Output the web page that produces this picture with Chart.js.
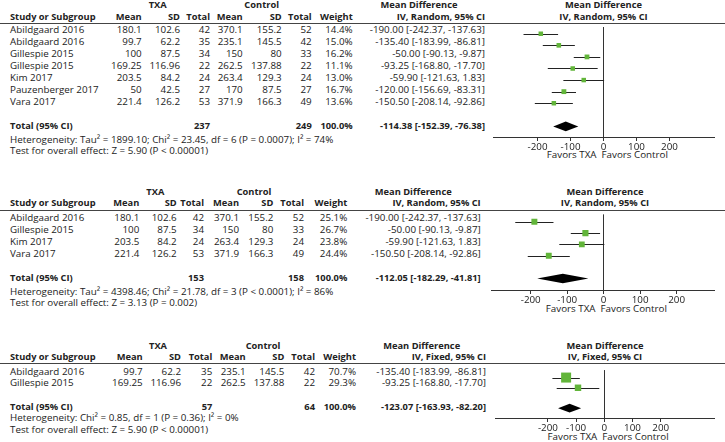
<!DOCTYPE html>
<html>
<head>
<meta charset="utf-8">
<script src="https://cdn.jsdelivr.net/npm/chart.js@4.4.1/dist/chart.umd.min.js"></script>
<style>
body { margin: 0; background: #fff; width: 725px; height: 442px; overflow: hidden; position: relative;
       font-family: "Open Sans", sans-serif; color: #222; }
.t { position: absolute; white-space: nowrap; line-height: 12px; font-size: 9.8px; }
.b { font-weight: bold; font-size: 9.3px; }
.hl { position: absolute; left: 0; width: 725px; height: 1px; background: #444; }
canvas { position: absolute; }
</style>
</head>
<body>
<script>
// ---- data: panel 1 (IV, Random, all studies)
const studies1 = ['Abildgaard 2016', 'Abildgaard 2016', 'Gillespie 2015', 'Gillespie 2015', 'Kim 2017', 'Pauzenberger 2017', 'Vara 2017'];
const txaMean1 = [180.1, 99.7, 100, 169.25, 203.5, 50, 221.4];
const txaSD1 = [102.6, 62.2, 87.5, 116.96, 84.2, 42.5, 126.2];
const txaN1 = [42, 35, 34, 22, 24, 27, 53];
const ctlMean1 = [370.1, 235.1, 150, 262.5, 263.4, 170, 371.9];
const ctlSD1 = [155.2, 145.5, 80, 137.88, 129.3, 87.5, 166.3];
const ctlN1 = [52, 42, 33, 22, 24, 27, 49];
const weight1 = [14.4, 15.0, 16.2, 11.1, 13.0, 16.7, 13.6];
const md1 = [-190.00, -135.40, -50.00, -93.25, -59.90, -120.00, -150.50];
const lo1 = [-242.37, -183.99, -90.13, -168.80, -121.63, -156.69, -208.14];
const hi1 = [-137.63, -86.81, -9.87, -17.70, 1.83, -83.31, -92.86];
const totalN1 = [237, 249];
const totalMD1 = [-114.38, -152.39, -76.38];
const het1 = 'Heterogeneity: Tau² = 1899.10; Chi² = 23.45, df = 6 (P = 0.0007); I² = 74%';
const test1 = 'Test for overall effect: Z = 5.90 (P < 0.00001)';

// ---- data: panel 2 (IV, Random, subset)
const studies2 = ['Abildgaard 2016', 'Gillespie 2015', 'Kim 2017', 'Vara 2017'];
const txaMean2 = [180.1, 100, 203.5, 221.4];
const txaSD2 = [102.6, 87.5, 84.2, 126.2];
const txaN2 = [42, 34, 24, 53];
const ctlMean2 = [370.1, 150, 263.4, 371.9];
const ctlSD2 = [155.2, 80, 129.3, 166.3];
const ctlN2 = [52, 33, 24, 49];
const weight2 = [25.1, 26.7, 23.8, 24.4];
const md2 = [-190.00, -50.00, -59.90, -150.50];
const lo2 = [-242.37, -90.13, -121.63, -208.14];
const hi2 = [-137.63, -9.87, 1.83, -92.86];
const totalN2 = [153, 158];
const totalMD2 = [-112.05, -182.29, -41.81];
const het2 = 'Heterogeneity: Tau² = 4398.46; Chi² = 21.78, df = 3 (P < 0.0001); I² = 86%';
const test2 = 'Test for overall effect: Z = 3.13 (P = 0.002)';

// ---- data: panel 3 (IV, Fixed)
const studies3 = ['Abildgaard 2016', 'Gillespie 2015'];
const txaMean3 = [99.7, 169.25];
const txaSD3 = [62.2, 116.96];
const txaN3 = [35, 22];
const ctlMean3 = [235.1, 262.5];
const ctlSD3 = [145.5, 137.88];
const ctlN3 = [42, 22];
const weight3 = [70.7, 29.3];
const md3 = [-135.40, -93.25];
const lo3 = [-183.99, -168.80];
const hi3 = [-86.81, -17.70];
const totalN3 = [57, 64];
const totalMD3 = [-123.07, -163.93, -82.20];
const het3 = 'Heterogeneity: Chi² = 0.85, df = 1 (P = 0.36); I² = 0%';
const test3 = 'Test for overall effect: Z = 5.90 (P < 0.00001)';

const xTicks = [-200, -100, 0, 100, 200];
const colHeads = ['Mean', 'SD', 'Total', 'Mean', 'SD', 'Total', 'Weight'];

const green = '#62b53a';

function txt(s, x, y, align, bold) {
    const d = document.createElement('div');
    d.className = 't' + (bold ? ' b' : '');
    d.textContent = s;
    d.style.top = (y - 6) + 'px';
    if (align === 'right') {
        d.style.right = (725 - x) + 'px';
    } else if (align === 'center') {
        d.style.left = (x - 100) + 'px';
        d.style.width = '200px';
        d.style.textAlign = 'center';
    } else {
        d.style.left = x + 'px';
    }
    document.body.appendChild(d);
}

function ci(m, l, h) {
    return m.toFixed(2) + ' [' + l.toFixed(2) + ', ' + h.toFixed(2) + ']';
}

// draws CI whiskers and the pooled diamond using the chart scales
const forestPlugin = {
    id: 'forest',
    beforeDatasetsDraw(chart, args, o) {
        const { ctx, scales: { x, y } } = chart;
        ctx.save();
        ctx.strokeStyle = '#222';
        ctx.lineWidth = 1;
        o.lo.forEach((l, i) => {
            const py = Math.round(y.getPixelForValue(i)) + 0.5;
            ctx.beginPath();
            ctx.moveTo(x.getPixelForValue(l), py);
            ctx.lineTo(x.getPixelForValue(o.hi[i]), py);
            ctx.stroke();
        });
        const [m, l, h] = o.total;
        const r = o.totalRow;
        ctx.fillStyle = '#000';
        ctx.beginPath();
        ctx.moveTo(x.getPixelForValue(l), y.getPixelForValue(r));
        ctx.lineTo(x.getPixelForValue(m), y.getPixelForValue(r - 0.42));
        ctx.lineTo(x.getPixelForValue(h), y.getPixelForValue(r));
        ctx.lineTo(x.getPixelForValue(m), y.getPixelForValue(r + 0.42));
        ctx.closePath();
        ctx.fill();
        ctx.restore();
    }
};

function panel(p) {
    const g = p.geo;
    // column headers
    txt('TXA', g.txaC, g.y0, 'center', true);
    txt('Control', g.ctlC, g.y0, 'center', true);
    txt('Mean Difference', g.mdHeadC, g.y0, 'center', true);
    txt('Mean Difference', g.plotHeadC, g.y0, 'center', true);
    txt('Study or Subgroup', 10, g.y1, 'left', true);
    colHeads.forEach((h, i) => txt(h, g.cols[i], g.y1, 'right', true));
    txt(p.method, g.mdRight, g.y1, 'right', true);
    txt(p.method, g.plotHeadC, g.y1, 'center', true);
    const line = document.createElement('div');
    line.className = 'hl';
    line.style.top = Math.round(g.line) + 'px';
    document.body.appendChild(line);

    // study rows
    p.studies.forEach((s, i) => {
        const y = g.row0 + g.step * i;
        txt(s, 10, y, 'left');
        const vals = [p.txaMean[i], p.txaSD[i], p.txaN[i], p.ctlMean[i], p.ctlSD[i], p.ctlN[i]];
        vals.forEach((v, j) => txt(String(v), g.cols[j], y, 'right'));
        txt(p.weight[i].toFixed(1) + '%', g.cols[6], y, 'right');
        txt(ci(p.md[i], p.lo[i], p.hi[i]), g.mdRight, y, 'right');
    });

    // total row
    const ty = g.row0 + g.step * p.totalRow;
    txt('Total (95% CI)', 10, ty, 'left', true);
    txt(String(p.totalN[0]), g.cols[2], ty, 'right', true);
    txt(String(p.totalN[1]), g.cols[5], ty, 'right', true);
    txt('100.0%', g.cols[6], ty, 'right', true);
    txt(ci(p.totalMD[0], p.totalMD[1], p.totalMD[2]), g.mdRight, ty, 'right', true);
    txt(p.het, 10, g.het, 'left');
    txt(p.test, 10, g.test, 'left');
    txt('Favors TXA', g.zero - 7, g.favors, 'right');
    txt('Favors Control', g.zero - 2, g.favors, 'left');

    // plot
    const cLeft = 487, bottomSpace = 22;
    const top = Math.round(g.line);
    const h = Math.round(g.axis) - top + bottomSpace;
    const cv = document.createElement('canvas');
    cv.width = 725 - cLeft;
    cv.height = h;
    cv.style.left = cLeft + 'px';
    cv.style.top = top + 'px';
    document.body.appendChild(cv);

    const xmin = -(g.zero - g.areaL) / g.pxPer100 * 100;
    const xmax = (g.areaR - g.zero) / g.pxPer100 * 100;
    const ymin = (top - g.row0) / g.step;
    const ymax = (Math.round(g.axis) - g.row0) / g.step;
    const side = w => Math.max(4.5, 10 * Math.sqrt(w / 70.7));

    new Chart(cv, {
        type: 'scatter',
        data: {
            datasets: [{
                data: p.md.map((m, i) => ({ x: m, y: i })),
                pointStyle: 'rect',
                pointRadius: p.weight.map(w => side(w) / Math.SQRT2),
                backgroundColor: green,
                borderWidth: 0
            }]
        },
        plugins: [forestPlugin],
        options: {
            responsive: false,
            animation: false,
            events: [],
            layout: { padding: { left: g.areaL - cLeft, right: 725 - g.areaR, top: 0, bottom: 0 } },
            scales: {
                x: {
                    type: 'linear',
                    min: xmin,
                    max: xmax,
                    afterBuildTicks: s => { s.ticks = xTicks.map(v => ({ value: v })); },
                    afterFit: s => { s.height = bottomSpace; },
                    border: { display: true, color: '#333', width: 1 },
                    grid: {
                        color: c => (c.tick && c.tick.value === 0 ? '#333' : 'rgba(0,0,0,0)'),
                        tickColor: '#333',
                        tickLength: 4
                    },
                    ticks: {
                        padding: 0,
                        color: '#222',
                        maxRotation: 0,
                        font: { family: 'Open Sans', size: 9.8 }
                    }
                },
                y: { display: false, reverse: true, min: ymin, max: ymax }
            },
            plugins: {
                legend: { display: false },
                tooltip: { enabled: false },
                forest: { lo: p.lo, hi: p.hi, total: p.totalMD, totalRow: p.totalRow }
            }
        }
    });
}

panel({
    method: 'IV, Random, 95% CI',
    studies: studies1, txaMean: txaMean1, txaSD: txaSD1, txaN: txaN1,
    ctlMean: ctlMean1, ctlSD: ctlSD1, ctlN: ctlN1, weight: weight1,
    md: md1, lo: lo1, hi: hi1, totalN: totalN1, totalMD: totalMD1, totalRow: 8,
    het: het1, test: test1,
    geo: { y0: 5, y1: 17, line: 23, row0: 30, step: 12, het: 139.5, test: 151, axis: 137,
           areaL: 493, areaR: 714, zero: 603.5, pxPer100: 33, favors: 155,
           cols: [141.7, 180, 210, 242.7, 281.7, 311.7, 352.7], mdRight: 485,
           txaC: 157.7, ctlC: 261.7, mdHeadC: 419, plotHeadC: 603.5 }
});

panel({
    method: 'IV, Random, 95% CI',
    studies: studies2, txaMean: txaMean2, txaSD: txaSD2, txaN: txaN2,
    ctlMean: ctlMean2, ctlSD: ctlSD2, ctlN: ctlN2, weight: weight2,
    md: md2, lo: lo2, hi: hi2, totalN: totalN2, totalMD: totalMD2, totalRow: 5,
    het: het2, test: test2,
    geo: { y0: 191.7, y1: 203.3, line: 210, row0: 217.8, step: 12, het: 291.7, test: 303.3, axis: 290,
           areaL: 489, areaR: 714, zero: 602.5, pxPer100: 36.85, favors: 309,
           cols: [139.3, 176.7, 204, 239, 273.3, 304, 347.3], mdRight: 480.7,
           txaC: 155.3, ctlC: 254, mdHeadC: 413.3, plotHeadC: 605 }
});

panel({
    method: 'IV, Fixed, 95% CI',
    studies: studies3, txaMean: txaMean3, txaSD: txaSD3, txaN: txaN3,
    ctlMean: ctlMean3, ctlSD: ctlSD3, ctlN: ctlN3, weight: weight3,
    md: md3, lo: lo3, hi: hi3, totalN: totalN3, totalMD: totalMD3, totalRow: 3,
    het: het3, test: test3,
    geo: { y0: 346, y1: 357.3, line: 363, row0: 371.6, step: 11.7, het: 418.3, test: 430, axis: 418,
           areaL: 495, areaR: 714, zero: 604.3, pxPer100: 28.2, favors: 436.7,
           cols: [142.7, 181, 212.3, 245.7, 284.3, 315, 356], mdRight: 486,
           txaC: 158, ctlC: 263, mdHeadC: 421.7, plotHeadC: 605 }
});
</script>
</body>
</html>
